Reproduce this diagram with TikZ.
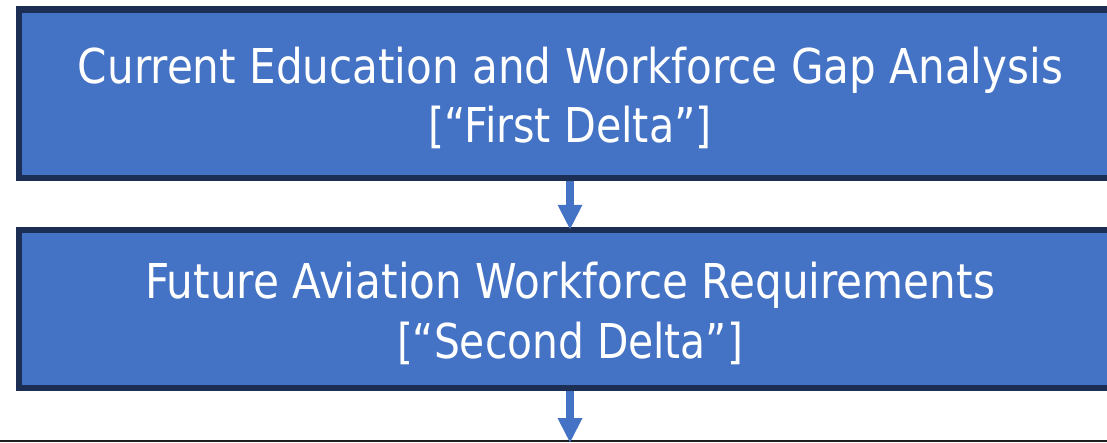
\documentclass[tikz,border=0pt]{standalone}
\usepackage{fontspec}
\usepackage{graphicx}
\usetikzlibrary{arrows.meta}
\setmainfont{DejaVu Sans}
\definecolor{boxfill}{HTML}{4472C4}
\definecolor{boxedge}{HTML}{1C2E54}
\definecolor{arrowblue}{HTML}{4472C4}
\definecolor{rulegray}{HTML}{1E1E1E}
% set a line of text to a given width, keeping its natural height
\newcommand\fitline[2]{\resizebox{#1}{\height}{#2}}
\begin{document}
\begin{tikzpicture}[x=1pt,y=-1pt,
  stagebox/.style={draw=boxedge,fill=boxfill,line width=6.5pt,rectangle,
    minimum width=1103pt,inner sep=0pt},
  boxtext/.style={anchor=base,inner sep=0pt,text=white,
    font=\fontsize{48}{58}\selectfont},
  flow/.style={draw=arrowblue,line width=8pt,
    -{Triangle[length=25pt,width=23pt]},shorten >=-3pt}]
\useasboundingbox (0,0) rectangle (1107,442);
\clip (0,0) rectangle (1107,442);
% process stages
\node[stagebox,minimum height=168.7pt] (gap) at (570.5,93.65) {};
\node[stagebox,minimum height=158pt] (req) at (570.5,309) {};
\node[draw=rulegray,line width=2pt,rectangle,minimum width=1200pt,
  minimum height=100pt,inner sep=0pt] (next) at (570.5,491) {};
% stage captions
\node[boxtext] (gapA) at (570.5,83) {\fitline{985pt}{Current Education and Workforce Gap Analysis}};
\node[boxtext] (gapB) at (570,142) {\fitline{284pt}{[“First Delta”]}};
\node[boxtext] (reqA) at (570,298) {\fitline{850pt}{Future Aviation Workforce Requirements}};
\node[boxtext] (reqB) at (570,358) {\fitline{346pt}{[“Second Delta”]}};
% connectors
\draw[flow] (gap.south -| 570,0) -- (req.north -| 570,0);
\draw[flow] (req.south -| 570,0) -- (next.north -| 570,0);
\end{tikzpicture}
\end{document}
